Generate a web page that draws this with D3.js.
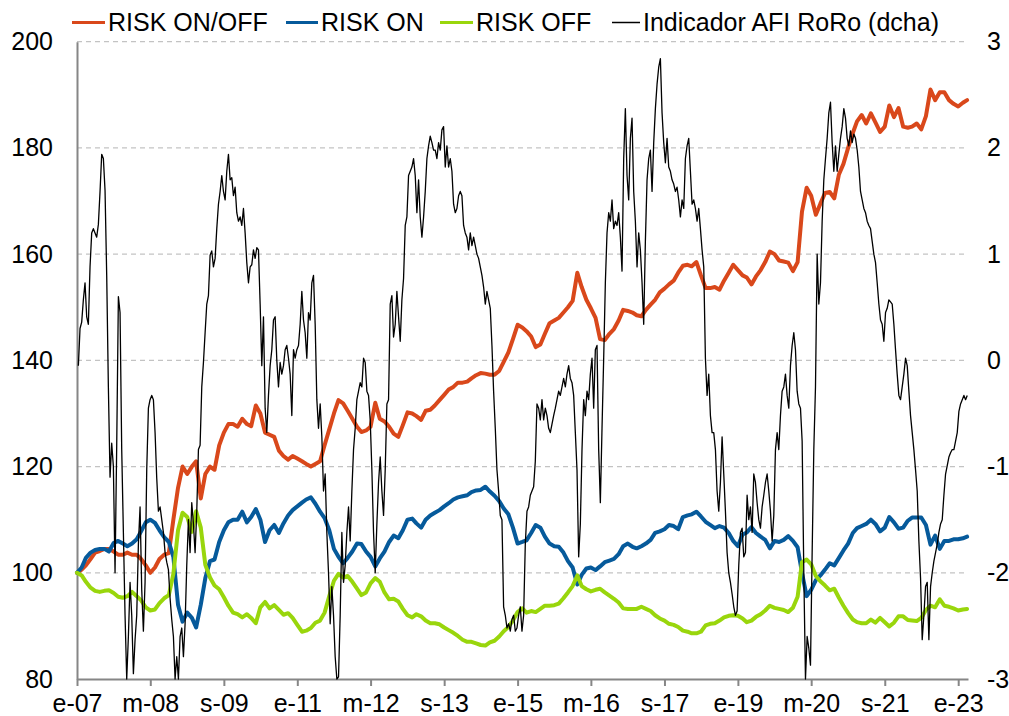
<html>
<head>
<script src="https://d3js.org/d3.v7.min.js"></script>
<style>
    html, body {
        margin: 0;
        padding: 0;
        background: #fff;
    }
</style>
</head>
<body>
<script>
    // monthly values, first of month from ene-2007 to mar-2023
    var riskOnOff = [
        100, 100.6, 101.4, 102.6, 103.8, 104.1, 104.5, 104.5, 104, 103.4,
        103.4, 103.8, 103.4, 103.4, 102.6, 101.4, 100, 101, 102.6, 103.4,
        103.7, 110, 116, 120, 118.6, 120, 121, 114, 118.6, 120,
        119.4, 124, 126.4, 128, 128, 127.5, 129, 128, 127.6, 131.5,
        130, 126.4, 126, 125.6, 123, 122, 121.3, 122, 121.5, 121,
        120.5, 120, 120.5, 121, 124, 127, 130, 132.5, 131.9, 130.5,
        129, 127.5, 126.5, 126.8, 127.5, 132, 129, 128.5, 127.5, 126.2,
        125.6, 127.8, 130.2, 130, 129.5, 128.8, 130.5, 130.7, 131.5, 132.5,
        133.5, 134.5, 135, 135.8, 135.8, 136, 136.6, 137.2, 137.6, 137.5,
        137.3, 137.3, 138, 139.7, 141.5, 144, 146.7, 146.2, 145.5, 144.5,
        142.5, 143, 145, 147, 147.5, 148, 149, 150, 151.2, 156.5,
        153.8, 151.4, 149.8, 148, 144, 143.8, 145, 145.9, 147.5, 149.5,
        149.3, 149, 148.5, 148.3, 149.5, 150.5, 151.4, 152.8, 153.5, 154.3,
        155, 156.5, 157.8, 158, 157.7, 158.5, 156, 153.6, 153.6, 153.8,
        153.3, 155, 156.5, 158, 157, 156, 155.6, 154.3, 155.8, 157,
        158.5, 160.5, 160, 158.8, 158.6, 158.4, 156.8, 158.5, 168, 172.5,
        171, 167.4, 169.5, 171.5, 171.7, 170.5, 175, 177, 180, 182.8,
        185, 186.2, 184.6, 186.5, 184.8, 183, 184, 188, 185.8, 187.5,
        184, 183.8, 184, 184.6, 183.5, 186, 191, 189, 190.5, 190.5,
        189, 188.3, 187.8, 188.5, 189
    ];
    var riskOn = [
        100, 101, 102.8, 103.8, 104.3, 104.5, 104.5, 104, 105.6, 106,
        105.5, 105, 105.5, 106.3, 107.8, 109.5, 110, 109.4, 108, 106.7,
        105.8, 103, 94, 90.8, 92.5, 91.5, 89.7, 94, 99, 102.2,
        102.5, 105.8, 108, 109.5, 110, 110, 111.5, 109.5, 110.5, 112,
        110, 105.8, 108, 109, 107.5, 109.3, 110.8, 111.8, 112.5, 113.2,
        113.8, 114.2, 113, 111.5, 110.3, 108, 104.5, 103, 101.8, 102.8,
        104, 105.5, 105.4, 104, 103, 101.2, 102.7, 104, 105.8, 107,
        106.5, 108, 110, 110.2, 109.3, 108.5, 110, 110.8, 111.3, 111.8,
        112.5, 113.1, 113.8, 114.2, 114.4, 114.6, 115.2, 115.5, 115.6, 116.2,
        115.3, 114.5, 113.5, 112.1, 111, 108.5, 105.5, 105.8, 106.1, 107.5,
        109, 108.5, 106.8, 105.5, 105, 104.9, 103.8, 102.2, 101, 97.8,
        99.6, 100.8, 101, 100.5, 101.2, 102, 102.3, 102.6, 103.5, 105,
        105.5, 104.9, 104.6, 105, 105.5, 106.2, 107.5, 107.8, 108.2, 109,
        108.8, 108.2, 110.5, 110.8, 111, 111.5, 110.6, 109.6, 109, 108.4,
        108.8, 108.5, 107.5, 106, 105, 107.2, 107.6, 108.6, 107.5, 106.8,
        106.2, 104.6, 106, 105.8, 106.2, 106.9, 106, 104.8, 100, 95.6,
        96.8, 98.6, 99.5, 100.6, 101.8, 101.4, 102.8, 104.2, 105.5, 107.5,
        108.4, 108.8, 109.2, 110, 109.2, 107.8, 108.5, 110.5, 109.5, 108.3,
        108.5, 109.8, 110.4, 110.4, 110.4, 109, 105.3, 107, 104.5, 106,
        106, 106.3, 106.3, 106.5, 106.8
    ];
    var riskOff = [
        100, 99.5, 98.3, 97.2, 96.6, 96.4, 96.6, 96.7, 96.2, 95.5,
        95.3, 95.6, 96.4, 95.6, 94.8, 93.5, 92.9, 93.1, 94.3, 95.2,
        95.8, 99.8, 108, 111.3, 110.5, 107.7, 111.6, 108.5, 101.5, 99.1,
        97.6, 96.9, 95.4, 93.8, 92.5, 92.2, 91.6, 92.2, 91.5, 90.5,
        93.5, 94.5, 93.3, 93.9, 93, 92.1, 92.4, 91.5, 90.2, 88.9,
        89.1, 89.6, 90.6, 91, 92.5, 95.6, 98.5, 99.8, 99.1, 99.4,
        98.3, 97, 95.8, 96.3, 98, 99, 98.3, 96.3, 95, 95.1,
        94.6, 93.2, 92, 91.6, 92.2, 91.8, 91, 90.5, 90.5, 90.3,
        89.7, 89.2, 88.7, 88.1, 87.4, 87, 87, 86.7, 86.4, 86.3,
        86.9, 87.2, 88, 89, 89.8, 91, 92.6, 93.3, 92.5, 92.8,
        92.6, 93.2, 93.8, 93.8, 93.9, 94.2, 95.2, 96.3, 97.5, 99.5,
        97.5, 96.9, 96.5, 96.8, 97, 96.3, 95.7, 95.1, 94.4, 93.3,
        93.2, 93.2, 93.2, 93.6, 93.2, 92.8, 92, 91.4, 91, 90.4,
        90.2, 89.8, 89.1, 88.9, 88.6, 88.6, 88.9, 90.1, 90.4, 90.5,
        91, 91.6, 91.9, 92, 91.9, 91.4, 90.7, 91, 91.7, 92.2,
        92.9, 93.8, 93.4, 93.2, 93, 92.6, 93.4, 95.5, 102, 102.5,
        101.6, 99.4, 98.4, 97.6, 96.7, 97, 95.3, 93.8, 92.4, 91.2,
        90.7, 90.5, 90.5, 91.2, 90.6, 91.5, 90.7, 89.9, 90.6, 91.8,
        91.8, 91.1, 91, 90.9, 91.5, 93, 93.8, 93.5, 95, 93.8,
        93.6, 93.3, 92.9, 93.1, 93.2
    ];
    // AFI RoRo indicator (right axis), one reading about every 11 days
    var roro = [
        -0.05, 0.3, 0.36, 0.57, 0.73, 0.41, 0.34, 0.88, 1.2, 1.24,
        1.2, 1.16, 1.28, 1.59, 1.94, 1.9, 1.6, 0.8, -0.25, -1.1,
        -0.78, -1.0, -2.0, -0.8, 0.6, 0.45, -0.84, -1.62, -2.4, -3.0,
        -2.6, -2.09, -2.4, -2.95, -2.63, -2.4, -1.73, -1.38, -2.16, -2.55,
        -2.09, -1.03, -0.45, -0.37, -0.33, -0.37, -0.68, -1.11, -1.42, -1.38,
        -1.5, -1.62, -1.81, -1.9, -1.97, -2.24, -2.44, -2.6, -3.0, -2.79,
        -3.0, -2.6, -2.52, -2.79, -2.48, -1.93, -1.5, -1.81, -1.34, -1.54,
        -1.81, -1.42, -0.84, -0.8, -0.25, -0.02, 0.26, 0.53, 0.61, 0.99,
        1.03, 0.88, 0.96, 1.24, 1.47, 1.59, 1.74, 1.59,
        1.51, 1.78, 1.94, 1.7, 1.72, 1.55, 1.63, 1.39, 1.31, 1.35,
        1.27, 1.43, 1.2, 0.92, 0.73, 0.88, 0.9, 1.04, 0.96, 1.06,
        1.04, 0.53, -0.05, 0.41, -0.45, -0.68, -0.33, -0.05, 0.1, 0.38,
        0.41, 0.0, -0.25, -0.02, -0.13, -0.05, 0.1, 0.14, 0.02, -0.13,
        -0.52, 0.1, 0.02, 0.1, 0.14, 0.34, 0.65, 0.38, 0.26, 0.02,
        0.45, 0.38, 0.73, 0.8, 0.34, -0.37, -0.64, -0.41, -0.72, -1.23,
        -1.07, -1.62, -2.0, -2.48, -2.13, -2.4, -2.79, -3.0, -2.98, -2.4,
        -1.62, -2.09, -1.93, -1.62, -1.38, -1.7, -1.23, -0.84, -0.64, -0.37,
        -0.29, -0.21, -0.25, 0.02, -0.02, -0.29, -0.33, -0.56, -1.03, -1.62,
        -2.0, -1.54, -1.15, -0.91, -1.23, -1.46, -1.03, -0.41, -0.37, 0.53,
        0.61, 0.22, 0.34, 0.65, 0.41, 0.18, 0.57, 0.77, 1.27, 1.35,
        1.74, 1.78, 1.82, 1.9, 1.74, 1.39, 1.7, 1.35, 1.16, 1.35,
        1.59, 1.9, 2.02, 2.11, 2.05, 1.98, 1.98, 1.9, 2.05, 1.98,
        2.17, 2.2, 1.82, 2.02, 1.82, 1.9, 1.78, 1.47, 1.39, 1.43,
        1.55, 1.59, 1.55, 1.27, 1.2, 1.16, 1.04, 1.2, 1.08, 1.16,
        1.08, 1.0, 0.96, 0.88, 0.8, 0.69, 0.53, 0.65, 0.57, 0.49,
        0.14, -0.29, -0.64, -1.03, -1.23, -1.46, -1.5, -2.32, -2.4, -2.52,
        -2.48, -2.55, -2.44, -2.4, -2.55, -2.52, -2.4, -2.32, -2.55, -2.4,
        -1.73, -1.42, -1.38, -1.27, -1.23, -1.19, -0.95, -0.41, -0.45, -0.56,
        -0.37, -0.56, -0.45, -0.52, -0.64, -0.68, -0.6, -0.52, -0.45, -0.37,
        -0.29, -0.33, -0.25, -0.17, -0.25, -0.13, -0.05, -0.17, -0.21, -0.33,
        -0.68, -1.03, -1.85, -1.54, -0.84, -0.37, -0.52, -0.29, -0.37, -0.13,
        0.02, -0.45, 0.1, 0.14, -0.84, -1.34, -0.64, 0.02, 0.73, 1.2,
        1.39, 1.31, 1.51, 1.24, 1.31, 1.27, 1.39, 1.16, 0.84, 1.9,
        2.37, 1.74, 1.51, 2.09, 2.28, 1.59, 1.31, 0.88, 1.2, 1.04,
        0.73, 0.34, 1.12, 1.7, 1.9, 1.98, 1.59, 2.05, 2.37, 2.6,
        2.76, 2.84, 2.33, 2.05, 1.86, 2.09, 1.82, 1.78, 1.7, 1.66,
        1.59, 1.63, 1.51, 1.35, 1.51, 1.43, 1.9, 2.02, 2.09, 1.78,
        1.47, 1.51, 1.43, 1.31, 1.43, 1.24, 1.04, 0.88, 0.02, -0.33,
        -0.13, -0.52, -0.68, -0.68, -0.84, -1.23, -1.42, -1.15, -0.72, -1.07,
        -1.42, -1.81, -2.0, -2.09, -2.2, -2.32, -2.4, -2.36, -1.93, -1.62,
        -1.58, -1.85, -1.81, -1.27, -1.5, -1.38, -1.62, -1.07, -1.15, -1.34,
        -1.5, -1.58, -1.38, -1.27, -1.15, -1.07, -1.23, -1.42, -1.7, -1.46,
        -0.84, -0.68, -0.84, -0.52, -0.29, -0.25, -0.13, -0.33, -0.45, -0.05,
        0.14, 0.26, 0.1, -0.29, -0.41, -0.45, -0.76, -2.0, -3.0, -2.6,
        -2.71, -2.87, -1.81, -0.84, -0.25, 1.0, 0.53, 0.73, 1.31, 1.7,
        1.9, 2.09, 2.33, 2.43, 2.05, 1.78, 2.02, 1.78, 1.94, 2.09,
        2.2, 2.37, 2.28, 2.09, 2.02, 2.16, 2.05, 2.13, 2.09, 1.98,
        1.82, 1.59, 1.51, 1.43, 1.39, 1.31, 1.27, 1.24, 1.12, 1.0,
        0.92, 0.73, 0.53, 0.38, 0.34, 0.18, 0.45, 0.49, 0.57, 0.55,
        0.53, 0.34, 0.1, -0.13, -0.33, -0.37, -0.25, -0.13, 0.02, -0.05,
        -0.29, -0.52, -0.68, -0.84, -1.03, -1.23, -1.7, -2.05, -2.63, -2.4,
        -2.13, -2.09, -2.63, -2.13, -2.0, -1.89, -1.81, -1.73, -1.62, -1.54,
        -1.5, -1.27, -1.07, -0.99, -0.91, -0.87, -0.84, -0.84, -0.76, -0.68,
        -0.48, -0.41, -0.37, -0.33, -0.37, -0.33
    ];

    var xTickLabels = ['e-07', 'm-08', 's-09', 'e-11', 'm-12', 's-13', 'e-15',
                       'm-16', 's-17', 'e-19', 'm-20', 's-21', 'e-23'];
    var leftTicks = [80, 100, 120, 140, 160, 180, 200];
    var rightTicks = [-3, -2, -1, 0, 1, 2, 3];
    var legendNames = ['RISK ON/OFF', 'RISK ON', 'RISK OFF', 'Indicador AFI RoRo (dcha)'];

    var seriesStart = new Date(2007, 0, 1);
    var roroStart = new Date(2007, 0, 10);
    var roroStepDays = 11.06;
    var colors = ['#d9481b', '#065a9b', '#99d60c', '#000000'];

    var width = 1009;
    var height = 716;
    var plotLeft = 77, plotRight = 968, plotTop = 41.7, plotBottom = 679;
    var fontFamily = '"Liberation Sans", Arial, sans-serif';

    var svg = d3.select("body").append("svg")
        .attr("width", width)
        .attr("height", height)
        .style("background", "#fff");

    var x = d3.scaleTime()
        .domain([seriesStart, new Date(2023, 2, 7)])
        .range([plotLeft, plotRight]);
    var yL = d3.scaleLinear().domain([80, 200]).range([plotBottom, plotTop]);
    var yR = d3.scaleLinear().domain([-3, 3]).range([plotBottom, plotTop]);

    function monthly(arr) {
        return arr.map(function (v, i) {
            return { date: d3.timeMonth.offset(seriesStart, i), value: v };
        });
    }
    var roroData = roro.map(function (v, i) {
        return { date: new Date(roroStart.getTime() + i * roroStepDays * 864e5), value: v };
    });

    // dashed gridlines
    svg.append('g').selectAll('line')
        .data(leftTicks.slice(1))
        .enter().append('line')
        .attr('x1', plotLeft).attr('x2', plotRight - 3)
        .attr('y1', function (d) { return yL(d); })
        .attr('y2', function (d) { return yL(d); })
        .attr('stroke', '#c3c3c3')
        .attr('stroke-width', 1.3)
        .attr('stroke-dasharray', '5,4');

    // axes
    var xTickDates = xTickLabels.map(function (l, i) { return d3.timeMonth.offset(seriesStart, 16 * i); });
    var xAxis = svg.append('g')
        .attr('transform', 'translate(0,' + plotBottom + ')')
        .call(d3.axisBottom(x).tickValues(xTickDates)
            .tickFormat(function (d, i) { return xTickLabels[i]; })
            .tickSize(7).tickSizeOuter(0).tickPadding(8));

    var yAxisL = svg.append('g')
        .attr('transform', 'translate(' + plotLeft + ',0)')
        .call(d3.axisLeft(yL).tickValues(leftTicks).tickSize(0).tickSizeOuter(0).tickPadding(24));

    var yAxisR = svg.append('g')
        .attr('transform', 'translate(' + plotRight + ',0)')
        .call(d3.axisRight(yR).tickValues(rightTicks).tickSize(0).tickSizeOuter(0).tickPadding(19)
            .tickFormat(function (d) { return d < 0 ? '-' + Math.abs(d) : String(d); }));
    yAxisR.select('.domain').remove();

    [xAxis, yAxisL, yAxisR].forEach(function (g) {
        g.attr('font-family', fontFamily).attr('font-size', 25);
        g.selectAll('.domain, line').attr('stroke', '#868686').attr('stroke-width', 2);
        g.selectAll('text').attr('fill', '#000');
    });

    // series
    var lineL = d3.line()
        .x(function (d) { return x(d.date); })
        .y(function (d) { return yL(d.value); });
    var lineR = d3.line()
        .x(function (d) { return x(d.date); })
        .y(function (d) { return yR(d.value); });

    [riskOnOff, riskOn, riskOff].forEach(function (arr, i) {
        svg.append('path')
            .datum(monthly(arr))
            .attr('d', lineL)
            .attr('fill', 'none')
            .attr('stroke', colors[i])
            .attr('stroke-width', 4)
            .attr('stroke-linejoin', 'round')
            .attr('stroke-linecap', 'round');
    });

    svg.append('path')
        .datum(roroData)
        .attr('d', lineR)
        .attr('fill', 'none')
        .attr('stroke', colors[3])
        .attr('stroke-width', 1.3)
        .attr('stroke-linejoin', 'round');

    // legend
    var legendX = [72, 286, 440, 612];
    var legendLen = [33, 32, 33, 28];
    var legend = svg.append('g');
    legendNames.forEach(function (name, i) {
        legend.append('line')
            .attr('x1', legendX[i]).attr('x2', legendX[i] + legendLen[i])
            .attr('y1', 22.5).attr('y2', 22.5)
            .attr('stroke', colors[i])
            .attr('stroke-width', i < 3 ? 3 : 1.5);
        legend.append('text')
            .attr('x', legendX[i] + legendLen[i] + 3)
            .attr('y', 31)
            .attr('font-family', fontFamily)
            .attr('font-size', 25)
            .attr('fill', '#000')
            .text(name);
    });
</script>
</body>
</html>
